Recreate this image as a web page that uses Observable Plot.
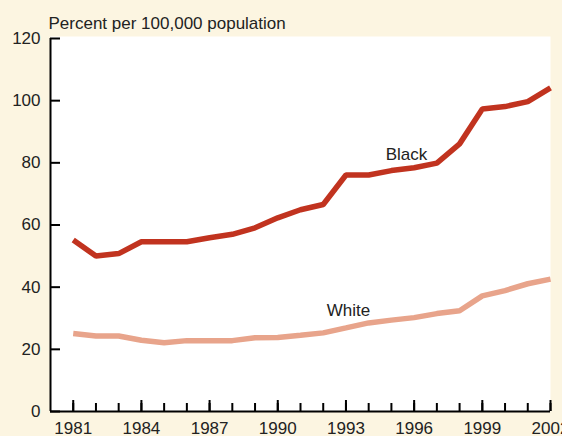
<!DOCTYPE html>
<html><head><meta charset="utf-8">
<script src="https://cdn.jsdelivr.net/npm/d3@7"></script>
<script src="https://cdn.jsdelivr.net/npm/@observablehq/plot@0.6"></script>
<style>
html,body{margin:0;padding:0;background:#fcf5e1;}
#chart svg{display:block;}
</style>
</head><body><div id="chart"></div>
<script>
const years = [1981,1982,1983,1984,1985,1986,1987,1988,1989,1990,1991,1992,1993,1994,1995,1996,1997,1998,1999,2000,2001,2002];
const blackRates = [55.2,50.0,50.8,54.6,54.6,54.6,55.9,57.0,59.1,62.3,64.9,66.6,76.1,76.1,77.5,78.4,79.9,86.1,97.3,98.1,99.7,104.1];
const whiteRates = [25.1,24.3,24.3,22.9,22.1,22.8,22.8,22.8,23.7,23.8,24.5,25.3,26.9,28.5,29.4,30.2,31.5,32.4,37.2,38.9,41.1,42.6];
const majorYears = [1981,1984,1987,1990,1993,1996,1999,2002];
const yTicks = [0,20,40,60,80,100,120];
const seriesNames = ["Black","White"];
const labelYears = [1995.66,1993.11];
const labelValues = [82.8,32.6];
const title = "Percent per 100,000 population";

const blackRows = years.map((yr,i)=>({year:yr, value:blackRates[i]}));
const whiteRows = years.map((yr,i)=>({year:yr, value:whiteRates[i]}));
const labelRows = seriesNames.map((s,i)=>({name:s, year:labelYears[i], value:labelValues[i]}));

const font = "'Liberation Sans', Arial, Helvetica, sans-serif";

const chart = Plot.plot({
  width: 562,
  height: 436,
  marginLeft: 50,
  marginRight: 12,
  marginTop: 38,
  marginBottom: 25,
  style: {background: "#fcf5e1", fontFamily: font, color: "#222", overflow: "visible"},
  x: {domain: [1980, 2002], label: null},
  y: {domain: [0, 120], label: null},
  marks: [
    Plot.frame({fill: "white", stroke: null, insetTop: -2}),
    Plot.line(whiteRows, {x: "year", y: "value", stroke: "#e8a48b", strokeWidth: 5.5, strokeLinecap: "butt", strokeLinejoin: "miter"}),
    Plot.line(blackRows, {x: "year", y: "value", stroke: "#c1331f", strokeWidth: 5.5, strokeLinecap: "butt", strokeLinejoin: "miter"}),
    Plot.ruleX([1980], {y1: 0, y2: 120, stroke: "black", strokeWidth: 2}),
    Plot.ruleY([0], {stroke: "black", strokeWidth: 2}),
    Plot.axisY(yTicks, {tickSize: -10, tickFormat: () => "", strokeWidth: 2, stroke: "black", label: null}),
    Plot.axisY(yTicks, {tickSize: 0, tickPadding: 10, fontSize: 17, fill: "#222", label: null}),
    Plot.axisX(years, {tickSize: -8, tickFormat: () => "", strokeWidth: 2, stroke: "black", label: null}),
    Plot.axisX(majorYears, {tickSize: -11, tickFormat: () => "", strokeWidth: 2, stroke: "black", label: null}),
    Plot.axisX(majorYears, {tickSize: 0, tickPadding: 10, fontSize: 17, fill: "#222", tickFormat: d => String(d), label: null}),
    Plot.text(labelRows, {x: "year", y: "value", text: "name", fontSize: 17, fill: "#222", textAnchor: "middle", lineAnchor: "middle"}),
    Plot.text([title], {frameAnchor: "top-left", text: d => d, dx: -2, dy: -10, textAnchor: "start", lineAnchor: "bottom", fontSize: 17, fill: "#222"})
  ]
});
document.getElementById("chart").appendChild(chart);
</script>
</body></html>
